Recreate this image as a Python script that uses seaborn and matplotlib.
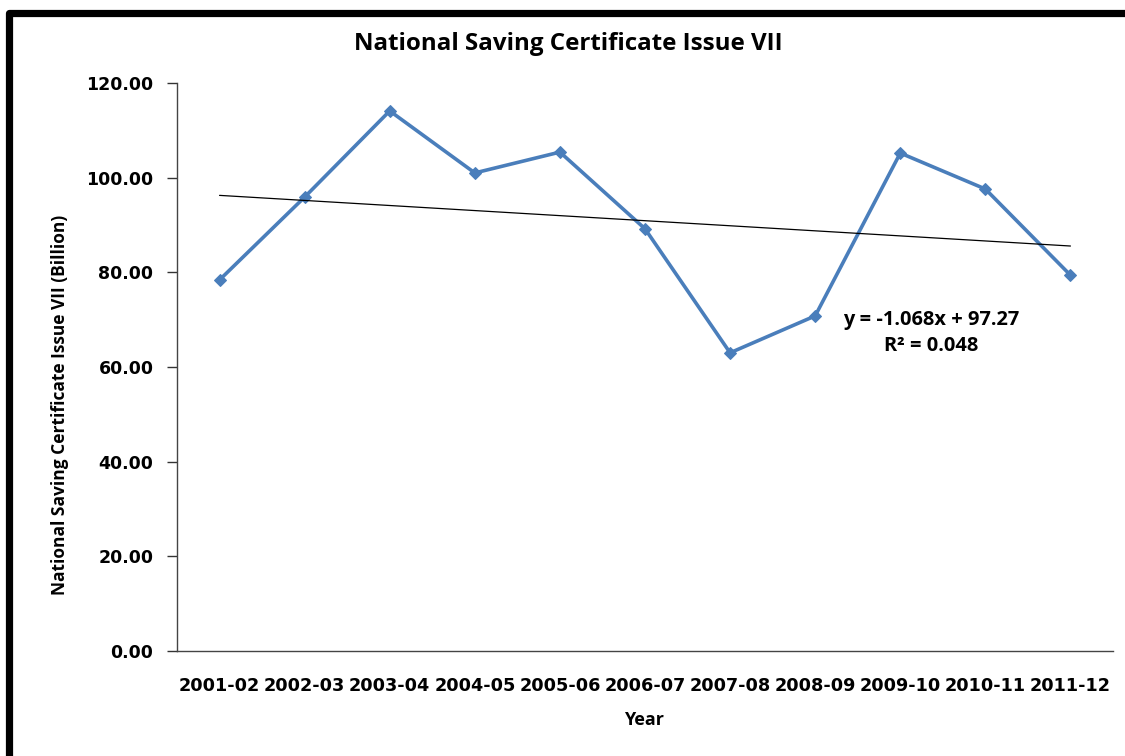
import numpy as np
import pandas as pd
import matplotlib
matplotlib.use("Agg")
import matplotlib.pyplot as plt
import seaborn as sns
from matplotlib.lines import Line2D

# data
years = ['2001-02', '2002-03', '2003-04', '2004-05', '2005-06', '2006-07',
         '2007-08', '2008-09', '2009-10', '2010-11', '2011-12']
values = [78.4, 95.9, 114.1, 101.0, 105.4, 89.2, 63.0, 70.8, 105.2, 97.6, 79.4]
y_ticks = [0, 20, 40, 60, 80, 100, 120]
# trendline label as printed on the chart
trend_eq = 'y = -1.068x + 97.27'
trend_r2 = 'R² = 0.048'

df = pd.DataFrame({'year': years, 'value': values})
df['pos'] = np.arange(len(years))

sns.set_style('white')
plt.rcParams['font.family'] = ['DejaVu Sans']
plt.rcParams['text.color'] = 'black'
plt.rcParams['xtick.color'] = 'black'
plt.rcParams['ytick.color'] = 'black'

W, H = 1125, 756
fig = plt.figure(figsize=(W / 100, H / 100), dpi=100)
ax = fig.add_axes([177 / W, 1 - 651 / H, (1113 - 177) / W, (651 - 83) / H])

line_color = '#4A7EBB'
sns.lineplot(data=df, x='pos', y='value', ax=ax, color=line_color, lw=2.6,
             marker='D', markersize=6.5, markeredgecolor=line_color)

# linear trendline
sns.regplot(data=df, x='pos', y='value', ax=ax, scatter=False, ci=None,
            line_kws={'color': 'black', 'lw': 0.9})

ax.set_xlim(-0.5, len(years) - 0.5)
ax.set_ylim(0, 120)
ax.set_yticks(y_ticks)
ax.set_yticklabels([f'{v:.2f}' for v in y_ticks], fontsize=12.5, fontweight='bold')
ax.set_xticks(df['pos'])
ax.set_xticklabels(years, fontsize=12.7, fontweight='bold')
ax.set_xticks(np.arange(-0.5, len(years)), minor=True)
ax.tick_params(axis='x', which='major', length=0, pad=19)
ax.tick_params(axis='x', which='minor', length=7, width=1, color='#333333', direction='out')
ax.tick_params(axis='y', length=7, width=1, color='#333333', direction='out', left=True, pad=10)

for s in ['top', 'right']:
    ax.spines[s].set_visible(False)
for s in ['left', 'bottom']:
    ax.spines[s].set_color('#444444')
    ax.spines[s].set_linewidth(1)

ax.set_xlabel('')
ax.set_ylabel('')
lab_font = ['Open Sans', 'DejaVu Sans']
fig.text(644 / W, 1 - 720 / H, 'Year', ha='center', va='center',
         fontsize=13, fontweight='bold', family=lab_font)
fig.text(60 / W, 1 - 405 / H, 'National Saving Certificate Issue VII (Billion)',
         ha='center', va='center', rotation=90, fontsize=12.5, fontweight='bold',
         family=lab_font)
fig.text(568 / W, 1 - 44 / H, 'National Saving Certificate Issue VII',
         ha='center', va='center', fontsize=17.4, fontweight='bold', family=lab_font)

fig.text(931 / W, 1 - 320 / H, trend_eq, ha='center', va='center',
         fontsize=14.4, fontweight='bold', family=lab_font)
fig.text(931 / W, 1 - 346 / H, trend_r2, ha='center', va='center',
         fontsize=14.4, fontweight='bold', family=lab_font)

# outer frame (top and left edges visible)
fig.add_artist(Line2D([8.5 / W, 8.5 / W, 1.0], [0.0, 1 - 12.5 / H, 1 - 12.5 / H],
                      transform=fig.transFigure, color='black', lw=5.2,
                      solid_joinstyle='round'))

fig.savefig('out.png', dpi=100)
